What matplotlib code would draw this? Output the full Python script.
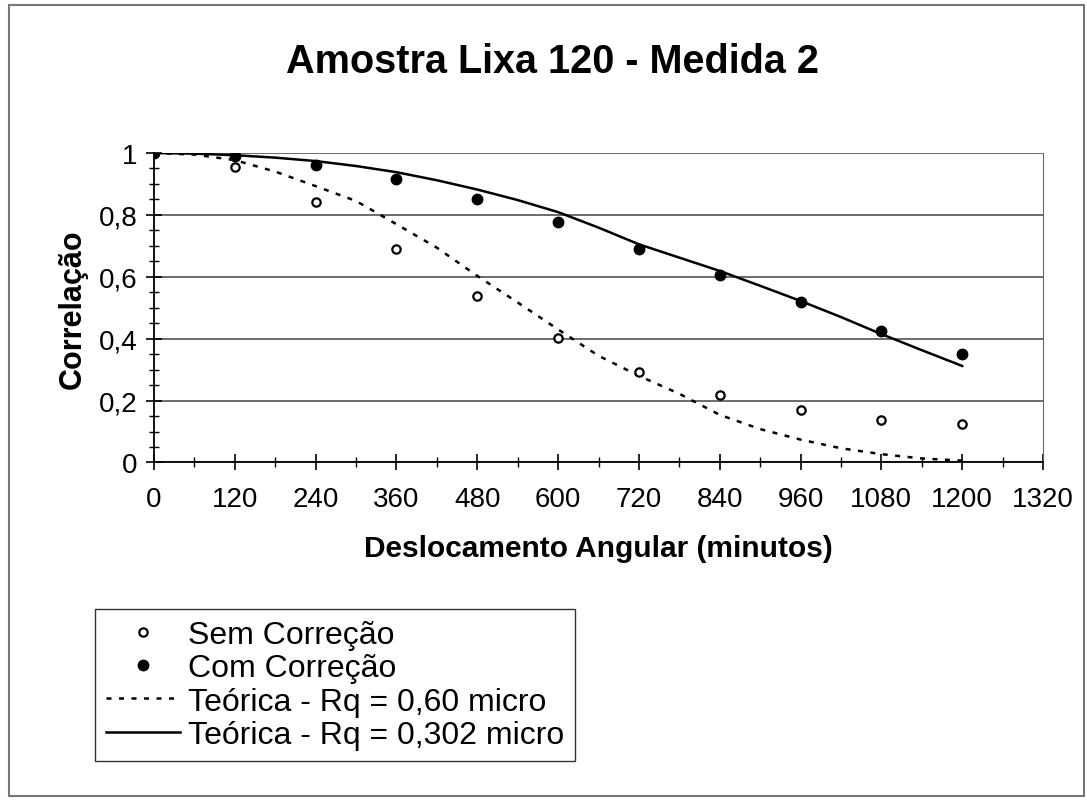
# Gráfico: correlação em função do deslocamento angular
# Amostra Lixa 120 - Medida 2

from matplotlib import pyplot as plt
from matplotlib.patches import Rectangle
from matplotlib.ticker import FuncFormatter, MultipleLocator

# Pontos medidos (minutos, correlação)
angulos = [0, 120, 240, 360, 480, 600, 720, 840, 960, 1080, 1200]
sem_correcao = [1.0, 0.955, 0.841, 0.69, 0.538, 0.403, 0.291, 0.218,
                0.170, 0.138, 0.124]
com_correcao = [1.0, 0.99, 0.96, 0.916, 0.852, 0.778, 0.689, 0.605,
                0.517, 0.426, 0.352]

angulos_teo = [0, 60, 120, 180, 240, 300, 360, 420, 480, 540, 600, 660,
               720, 780, 840, 900, 960, 1020, 1080, 1140, 1200]
teorica_060 = [1.0, 0.995, 0.977, 0.94, 0.893, 0.845, 0.77, 0.694, 0.603,
               0.517, 0.43, 0.345, 0.28, 0.222, 0.154, 0.108, 0.074, 0.046,
               0.027, 0.013, 0.006]
teorica_0302 = [1.0, 0.998, 0.993, 0.985, 0.974, 0.958, 0.938, 0.912, 0.882,
                0.848, 0.809, 0.759, 0.705, 0.662, 0.619, 0.571, 0.522, 0.47,
                0.415, 0.363, 0.312]

rotulos_legenda = ['Sem Correção', 'Com Correção',
                   'Teórica - Rq = 0,60 micro', 'Teórica - Rq = 0,302 micro']

plt.rcParams['font.family'] = ['Liberation Sans', 'DejaVu Sans']

fig = plt.figure(figsize=(10.87, 8.03), dpi=100)
ax = fig.add_axes([0.1417, 0.4228, 0.8178, 0.3854])

# Dados e curvas
l1, = ax.plot(angulos, sem_correcao, 'o', ms=6, mfc='white', mec='black',
              mew=1.6, zorder=4)
l2, = ax.plot(angulos, com_correcao, 'o', ms=7.5, mfc='black',
              mec='black', zorder=4)
l3, = ax.plot(angulos_teo, teorica_060, color='black', lw=1.8,
              linestyle=(0, (2, 3)), zorder=3)
l4, = ax.plot(angulos_teo, teorica_0302, color='black', lw=1.8, zorder=3)

# Eixos
ax.set_xlim(0, 1320)
ax.set_ylim(0, 1)
ax.xaxis.set_major_locator(MultipleLocator(120))
ax.xaxis.set_minor_locator(MultipleLocator(60))
ax.yaxis.set_major_locator(MultipleLocator(0.2))
ax.yaxis.set_minor_locator(MultipleLocator(0.05))
ax.yaxis.set_major_formatter(
    FuncFormatter(lambda v, p: f'{v:g}'.replace('.', ',')))
ax.tick_params(axis='both', which='major', direction='inout', length=12,
               width=1.2, labelsize=20, pad=6)
ax.tick_params(axis='both', which='minor', direction='inout', length=7,
               width=1.0)
ax.tick_params(axis='x', pad=11)
ax.grid(axis='y', which='major', color='#444444', lw=1.1)
ax.set_axisbelow(True)
ax.spines['top'].set_visible(False)
ax.spines['right'].set_color('#666666')
for lado in ['left', 'bottom']:
    ax.spines[lado].set_linewidth(1.3)

fig.text(553 / 1087, 1 - 62 / 803, 'Amostra Lixa 120 - Medida 2',
         fontsize=28.5, fontweight='bold', ha='center', va='center')
ax.set_xlabel('Deslocamento Angular (minutos)', fontsize=21.5,
              fontweight='bold', labelpad=16)
ax.set_ylabel('Correlação', fontsize=22, fontweight='bold', labelpad=8)

# Legenda em caixa abaixo do gráfico
fig.legend([l1, l2, l3, l4], rotulos_legenda, loc='upper left',
           bbox_to_anchor=(95 / 1087, 1 - 610 / 803), fontsize=23,
           frameon=True, fancybox=False, edgecolor='#333333',
           framealpha=1, handlelength=2.3, handletextpad=0.25,
           labelspacing=0.1, borderpad=0.35, borderaxespad=0)

# Moldura externa
fig.patches.append(Rectangle((0.008, 0.007), 0.989, 0.985,
                             transform=fig.transFigure, fill=False,
                             edgecolor='#777777', lw=1.5))

fig.savefig('out.png', dpi=100)
